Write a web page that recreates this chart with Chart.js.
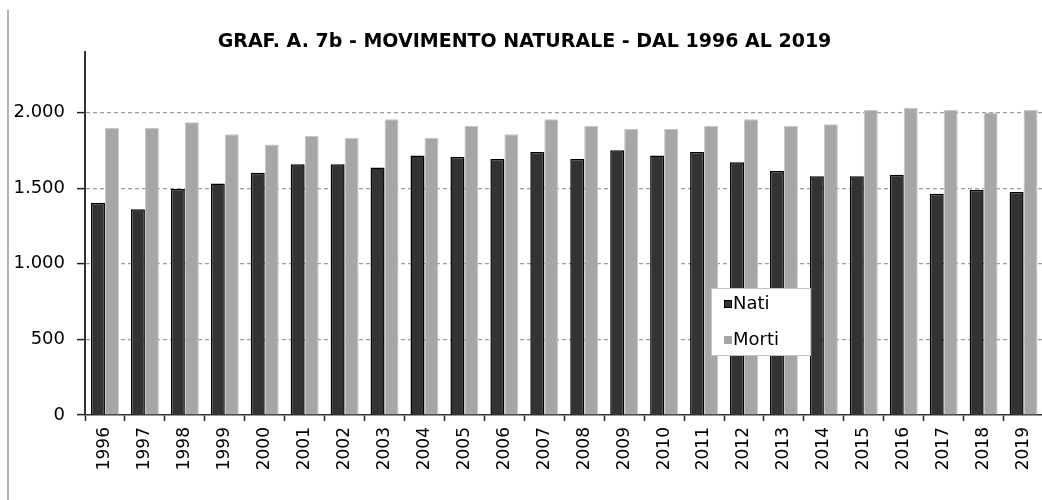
<!DOCTYPE html>
<html>
<head>
<meta charset="utf-8">
<script src="https://cdn.jsdelivr.net/npm/chart.js@4"></script>
<style>
  html, body { margin: 0; padding: 0; background: #fff; overflow: hidden; width: 1042px; height: 500px; }
  #wrap { position: absolute; left: 0; top: 0; width: 1050px; height: 500px; }
  #frame { position: absolute; left: 7px; top: 10px; width: 0; height: 490px; border-left: 2px solid #b4b4b4; }
  canvas { position: absolute; left: 0; top: 0; }
</style>
</head>
<body>
<div id="wrap">
  <div id="frame"></div>
  <canvas id="c" width="1050" height="500" style="width:1050px;height:500px"></canvas>
</div>
<script>
const titleText = 'GRAF. A. 7b - MOVIMENTO NATURALE - DAL 1996 AL 2019';
const years = ['1996','1997','1998','1999','2000','2001','2002','2003','2004','2005','2006','2007','2008','2009','2010','2011','2012','2013','2014','2015','2016','2017','2018','2019'];
const nati  = [1403,1360,1495,1531,1601,1658,1658,1636,1715,1706,1693,1739,1693,1750,1715,1739,1671,1614,1579,1579,1588,1462,1489,1474];
const morti = [1900,1900,1935,1856,1788,1844,1831,1956,1831,1913,1856,1956,1913,1891,1891,1913,1956,1913,1923,2016,2029,2016,2000,2016];
const yTickValues = [0, 500, 1000, 1500, 2000];
const yMax = 2400;

function fmt(v) { return String(v).replace(/\B(?=(\d{3})+(?!\d))/g, '.'); }

const legendPlugin = {
  id: 'boxLegend',
  afterDraw(chart) {
    const ctx = chart.ctx;
    const x = 711, y = 288, w = 100, h = 68;
    ctx.save();
    ctx.fillStyle = '#ffffff';
    ctx.fillRect(x, y, w, h);
    ctx.strokeStyle = '#c4c4c4';
    ctx.lineWidth = 1;
    ctx.strokeRect(x + 0.5, y + 0.5, w - 1, h - 1);
    ctx.font = '18px "DejaVu Sans"';
    ctx.textBaseline = 'middle';
    ctx.textAlign = 'left';
    const rows = [304, 340];
    chart.data.datasets.forEach((ds, i) => {
      const cy = rows[i];
      ctx.fillStyle = ds.backgroundColor;
      ctx.fillRect(724, cy - 4, 8, 8);
      if (i === 0) {
        ctx.strokeStyle = '#000';
        ctx.lineWidth = 1;
        ctx.strokeRect(724.5, cy - 3.5, 7, 7);
      }
      ctx.fillStyle = '#000';
      ctx.fillText(ds.label, 733, cy);
    });
    ctx.restore();
  }
};

new Chart(document.getElementById('c'), {
  type: 'bar',
  data: {
    labels: years,
    datasets: [
      { label: 'Nati', data: nati, backgroundColor: '#333333', borderColor: '#000000', borderWidth: 1.5,
        categoryPercentage: 0.7, barPercentage: 1.0 },
      { label: 'Morti', data: morti, backgroundColor: '#a6a6a6', borderColor: '#c6c6c6', borderWidth: 1,
        categoryPercentage: 0.7, barPercentage: 1.0 }
    ]
  },
  options: {
    responsive: false,
    animation: false,
    devicePixelRatio: 1,
    layout: { padding: { left: 0, right: 1, top: 0, bottom: 0 } },
    plugins: {
      legend: { display: false },
      tooltip: { enabled: false },
      title: {
        display: true,
        text: titleText,
        color: '#000',
        font: { family: '"DejaVu Sans"', weight: 'bold', size: 19, lineHeight: 1.0 },
        padding: { top: 33, bottom: 0 }
      }
    },
    scales: {
      x: {
        afterFit(scale) { scale.height = 85; },
        grid: { offset: true, drawOnChartArea: false, color: '#222', tickColor: '#222', tickLength: 6, tickWidth: 1.5 },
        border: { color: '#333', width: 1.5 },
        ticks: { autoSkip: false, minRotation: 90, maxRotation: 90, padding: 6, color: '#000',
          font: { family: '"DejaVu Sans"', size: 17 } }
      },
      y: {
        min: 0,
        max: yMax,
        afterFit(scale) { scale.width = 85; },
        afterBuildTicks(scale) { scale.ticks = yTickValues.map(v => ({ value: v })); },
        grid: {
          color: (c) => (c.tick && c.tick.value === 0) ? 'rgba(0,0,0,0)' : '#9c9c9c',
          lineWidth: 1.2,
          tickColor: '#222', tickLength: 8, tickWidth: 1.5
        },
        border: { color: '#333', width: 2, dash: [4, 3] },
        ticks: { padding: 12, color: '#000', font: { family: '"DejaVu Sans"', size: 18 },
          callback: (v) => fmt(v) }
      }
    }
  },
  plugins: [legendPlugin]
});
</script>
</body>
</html>
